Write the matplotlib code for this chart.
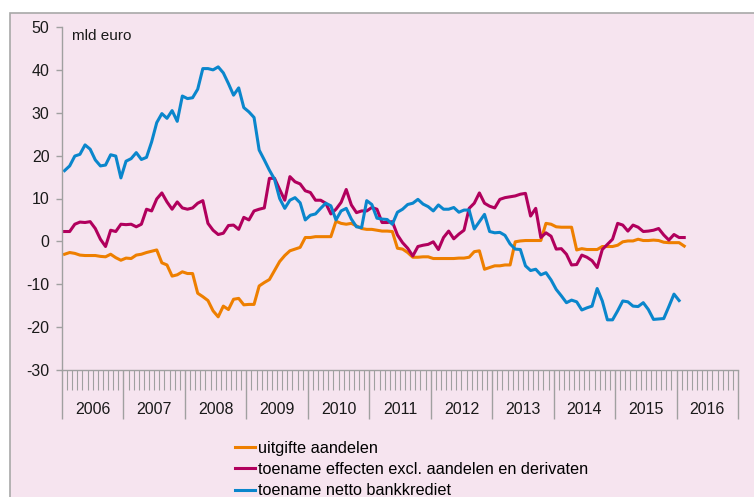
import matplotlib.pyplot as plt
import matplotlib.patches as mpatches
from matplotlib.ticker import MultipleLocator
import numpy as np

plt.rcParams['font.family'] = ['Liberation Sans', 'DejaVu Sans']
plt.rcParams['axes.unicode_minus'] = False

# maandreeksen vanaf januari 2006 (mld euro)
uitgifte_aandelen = [
    -3.0, -2.6, -2.8, -3.2, -3.3, -3.3, -3.3, -3.5, -3.6, -3.0, -3.8, -4.4,
    -3.9, -4.0, -3.2, -3.0, -2.6, -2.3, -2.0, -5.0, -5.5, -8.1, -7.8, -7.1,
    -7.5, -7.5, -12.1, -12.9, -13.8, -16.2, -17.6, -15.1, -15.9, -13.5, -13.3, -14.8,
    -14.7, -14.7, -10.4, -9.6, -8.9, -6.8, -4.7, -3.3, -2.2, -1.8, -1.4, 0.9,
    0.9, 1.1, 1.1, 1.1, 1.1, 4.7, 4.2, 4.0, 4.2, 3.6, 3.0, 2.8,
    2.8, 2.6, 2.4, 2.4, 2.3, -1.6, -1.8, -2.6, -3.7, -3.7, -3.6, -3.6,
    -4.0, -4.0, -4.0, -4.0, -4.0, -3.9, -3.9, -3.7, -2.4, -2.2, -6.5, -6.1,
    -5.7, -5.7, -5.5, -5.5, -0.1, 0.1, 0.2, 0.2, 0.2, 0.2, 4.2, 4.0,
    3.4, 3.3, 3.3, 3.3, -2.0, -1.7, -1.9, -1.9, -1.9, -1.2, -1.2, -1.2,
    -0.9, -0.1, 0.1, 0.1, 0.5, 0.2, 0.2, 0.3, 0.2, -0.2, -0.3, -0.3,
    -0.3, -1.1,
]
toename_effecten = [
    2.3, 2.3, 4.0, 4.5, 4.4, 4.6, 3.0, 0.5, -1.2, 2.6, 2.3, 4.0,
    3.9, 4.0, 3.4, 4.0, 7.5, 7.1, 9.9, 11.3, 9.2, 7.5, 9.2, 7.8,
    7.5, 7.8, 8.9, 9.5, 4.2, 2.6, 1.6, 1.9, 3.7, 3.8, 2.8, 5.6,
    5.0, 7.1, 7.5, 7.8, 14.7, 14.7, 12.1, 9.6, 15.1, 13.9, 13.4, 11.8,
    11.4, 9.6, 9.6, 8.9, 6.4, 7.5, 9.1, 12.1, 8.5, 6.7, 7.1, 7.1,
    7.9, 7.5, 4.4, 4.4, 4.6, 1.5, -0.3, -1.6, -3.4, -1.2, -0.9, -0.7,
    -0.1, -1.9, 0.9, 2.4, 0.6, 1.7, 2.6, 7.7, 8.9, 11.3, 8.9, 8.2,
    7.8, 9.8, 10.2, 10.4, 10.6, 11.0, 11.2, 5.9, 7.7, 0.9, 2.0, 1.2,
    -1.8, -1.7, -3.0, -5.5, -5.4, -3.2, -3.7, -4.5, -6.1, -1.9, -0.7, 0.5,
    4.2, 3.8, 2.4, 3.8, 3.3, 2.3, 2.4, 2.6, 3.0, 1.5, 0.3, 1.6,
    0.9, 0.9,
]
toename_bankkrediet = [
    16.5, 17.6, 19.9, 20.3, 22.5, 21.5, 19.0, 17.6, 17.8, 20.2, 19.9, 14.8,
    18.7, 19.3, 20.7, 19.1, 19.6, 23.2, 27.7, 29.8, 28.7, 30.5, 28.0, 33.9,
    33.3, 33.5, 35.5, 40.3, 40.3, 40.0, 40.7, 39.3, 36.8, 34.1, 35.8, 31.2,
    30.2, 28.9, 21.3, 19.0, 16.6, 14.5, 10.0, 7.7, 9.6, 10.2, 9.0, 5.0,
    6.1, 6.4, 7.7, 8.9, 8.3, 5.0, 7.1, 7.7, 5.2, 3.4, 3.2, 9.5,
    8.6, 5.4, 5.2, 5.1, 4.0, 6.8, 7.5, 8.6, 8.9, 9.8, 8.7, 8.1,
    7.1, 8.5, 7.5, 7.5, 7.9, 6.8, 7.3, 7.3, 2.9, 4.6, 6.3, 2.3,
    2.0, 2.1, 1.4, -0.6, -1.8, -1.9, -5.7, -6.8, -6.5, -7.8, -7.3, -9.0,
    -11.2, -12.7, -14.3, -13.7, -14.1, -16.0, -15.5, -15.1, -11.0, -13.9, -18.3, -18.3,
    -16.2, -13.9, -14.1, -15.1, -15.2, -14.3, -15.9, -18.2, -18.1, -18.0, -15.2, -12.3,
    -13.8,
]
jaren = list(range(2006, 2017))

reeksen = [
    ('uitgifte aandelen', uitgifte_aandelen, '#EE7F00'),
    ('toename effecten excl. aandelen en derivaten', toename_effecten, '#B1005D'),
    ('toename netto bankkrediet', toename_bankkrediet, '#0A86CC'),
]

W, H = 754, 497
fig = plt.figure(figsize=(W / 100, H / 100), dpi=100, facecolor='white')
# roze achtergrond met grijze rand
fig.patches.append(mpatches.Rectangle((10 / W, -0.05), 1.1, 1.05 - 13 / H,
                                      transform=fig.transFigure, facecolor='#F6E4EF',
                                      edgecolor='#A8A8A8', linewidth=1.2, zorder=-10))

ax = fig.add_axes([62 / W, (H - 370) / H, (738 - 62) / W, (370 - 27) / H])
ax.set_facecolor('none')

n_maanden = 12 * len(jaren)
for naam, waarden, kleur in reeksen:
    x = np.arange(len(waarden)) + 0.5
    ax.plot(x, waarden, color=kleur, linewidth=2.2, label=naam)

ax.set_xlim(0, n_maanden)
ax.set_ylim(-30, 50)
ax.yaxis.set_major_locator(MultipleLocator(10))
ax.xaxis.set_major_locator(MultipleLocator(12))
ax.xaxis.set_minor_locator(MultipleLocator(1))
ax.set_xticklabels([])

grijs = '#A0A0A0'
for s in ['top', 'right']:
    ax.spines[s].set_visible(False)
for s in ['left', 'bottom']:
    ax.spines[s].set_color(grijs)
    ax.spines[s].set_linewidth(1.0)

ax.tick_params(axis='y', direction='out', length=4, width=1, color=grijs,
               labelsize=11.5, pad=5, labelcolor='#1a1a1a')
ax.tick_params(axis='x', which='major', direction='out', length=35, width=1, color=grijs)
ax.tick_params(axis='x', which='minor', direction='out', length=14.5, width=0.8, color=grijs)

for k, jaar in enumerate(jaren):
    ax.text(12 * k + 6, -0.114, str(jaar), transform=ax.get_xaxis_transform(),
            ha='center', va='center', fontsize=11.5, color='#1a1a1a')

ax.text(72 / W, 1 - 36 / H, 'mld euro', transform=fig.transFigure,
        ha='left', va='center', fontsize=11, color='#1a1a1a')

fig.legend(loc='upper left', bbox_to_anchor=(235 / W, 1 - 441 / H), frameon=False,
           fontsize=11.7, handlelength=1.25, handletextpad=0.15, labelspacing=0.38,
           borderpad=0, borderaxespad=0)

fig.savefig('out.png', dpi=100, facecolor=fig.get_facecolor())
